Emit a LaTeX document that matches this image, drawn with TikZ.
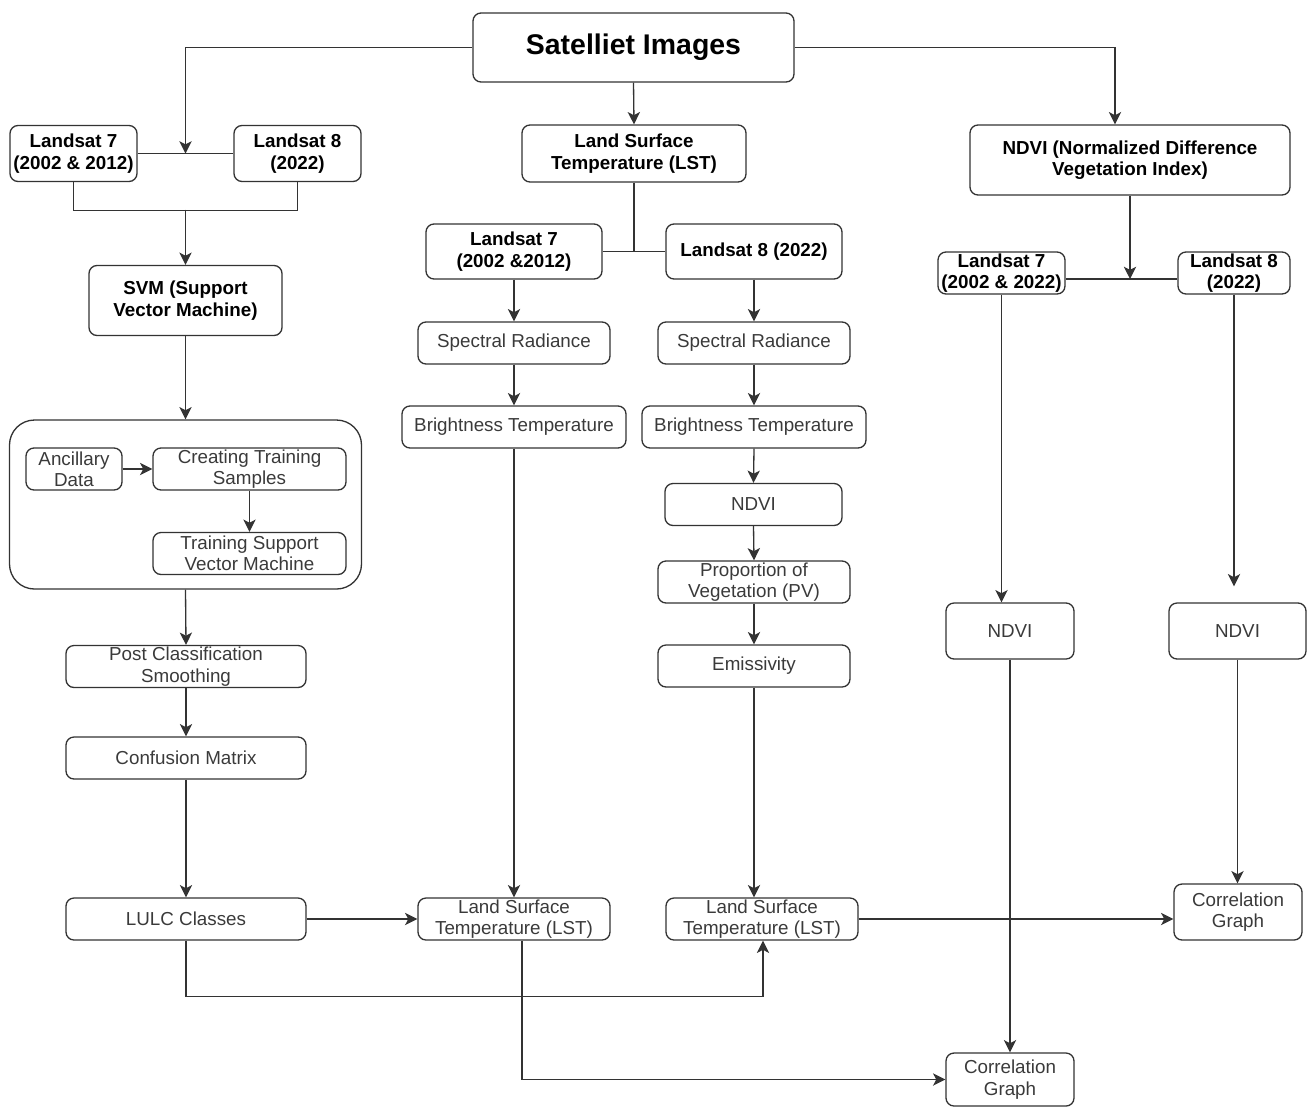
\documentclass[tikz,border=0pt]{standalone}
\usepackage{fontspec}
\setmainfont{Liberation Sans}
\usetikzlibrary{arrows.meta,calc}
\definecolor{lncol}{HTML}{333333}
\definecolor{txcol}{HTML}{3A3A3A}
\begin{document}
\begin{tikzpicture}[x=0.02cm,y=-0.02cm,
 box/.style 2 args={draw=lncol, line width=0.75pt, rounded corners=0.16cm, minimum width=#1*0.02cm, minimum height=#2*0.02cm, align=center, inner sep=0pt, font=\fontsize{10.7}{12.2}\selectfont, text=txcol},
 bbox/.style 2 args={box={#1}{#2}, font=\fontsize{10.7}{12.2}\selectfont\bfseries, text=black},
 arr/.style={draw=lncol, line width=0.75pt, -{Stealth[length=7pt,width=7pt,inset=1.8pt]}},
 conn/.style={draw=lncol, line width=0.75pt}
]
\useasboundingbox (0,0) rectangle (1307,1107);

% nodes
\node[bbox={321}{69}, font=\fontsize{16.2}{19}\selectfont\bfseries] (sat) at (633.5,47.5) {Satelliet Images};

\node[bbox={127}{56}] (l7a) at (73.5,153.5) {Landsat 7\\(2002 \& 2012)};
\node[bbox={127}{56}] (l8a) at (297.5,153.5) {Landsat 8\\(2022)};
\node[bbox={193}{70}] (svm) at (185.5,300.5) {SVM (Support\\Vector Machine)};
\node[box={352}{169}, rounded corners=0.5cm] (grp) at (185.5,504.5) {};
\node[box={96}{42}] (anc) at (74,469) {Ancillary\\Data};
\node[box={193}{42}] (cts) at (249.5,469) {Creating Training\\Samples};
\node[box={193}{42}] (tsvm) at (249.5,553.5) {Training Support\\Vector Machine};
\node[box={240}{42}] (pcs) at (186,666.5) {Post Classification\\Smoothing};
\node[box={240}{42}] (cm) at (186,758) {Confusion Matrix};
\node[box={240}{42}] (lulc) at (186,919) {LULC Classes};

\node[bbox={224}{57}] (lst) at (634,153.5) {Land Surface\\Temperature (LST)};
\node[bbox={176}{55}] (l7b) at (514,251.5) {Landsat 7\\(2002 \&2012)};
\node[bbox={176}{55}] (l8b) at (754,251.5) {Landsat 8 (2022)};
\node[box={192}{42}] (sr1) at (514,343) {Spectral Radiance};
\node[box={192}{42}] (sr2) at (754,343) {Spectral Radiance};
\node[box={224}{42}] (bt1) at (514,427) {Brightness Temperature};
\node[box={224}{42}] (bt2) at (754,427) {Brightness Temperature};
\node[box={177}{42}] (ndvim) at (753.5,504.5) {NDVI};
\node[box={192}{42}] (pv) at (754,582) {Proportion of\\Vegetation (PV)};
\node[box={192}{42}] (emi) at (754,666) {Emissivity};
\node[box={192}{42}] (lst1) at (514,919) {Land Surface\\Temperature (LST)};
\node[box={192}{42}] (lst2) at (762,919) {Land Surface\\Temperature (LST)};

\node[bbox={320}{70}] (ndvi) at (1130,160) {NDVI (Normalized Difference\\Vegetation Index)};
\node[bbox={127}{42}] (l7c) at (1001.5,273) {Landsat 7\\(2002 \& 2022)};
\node[bbox={112}{42}] (l8c) at (1234,273) {Landsat 8\\(2022)};
\node[box={128}{56}] (ndvia) at (1010,631) {NDVI};
\node[box={137}{56}] (ndvib) at (1237.5,631) {NDVI};
\node[box={128}{56}] (cg1) at (1238,912) {Correlation\\Graph};
\node[box={128}{53}] (cg2) at (1010,1079.5) {Correlation\\Graph};

% left branch
\coordinate (ja) at ($(l7a.east)!0.5!(l8a.west)$);
\draw[arr] (sat.west) -| (ja);
\draw[conn] (l7a.east) -- (l8a.west);
\draw[conn] (l7a.south) -- ++(0,28) -| (l8a.south);
\coordinate (jb) at ($(ja)+(0,56)$);
\draw[arr] (jb) -- (jb |- svm.north);
\draw[arr] (svm.south) -- (grp.north);
\draw[arr] (anc.east) -- (cts.west);
\draw[arr] (cts.south) -- (tsvm.north);
\draw[arr] (grp.south) -- (pcs.north);
\draw[arr] (pcs.south) -- (cm.north);
\draw[arr] (cm.south) -- (lulc.north);
\draw[arr] (lulc.east) -- (lst1.west);
\draw[arr] (lulc.south) -- ++(0,56) -| ($(lst2.south)+(1,0)$);

% middle branch
\draw[arr] (sat.south) -- (lst.north);
\draw[conn] (lst.south) -- (lst.south |- l7b.east);
\draw[conn] (l7b.east) -- (l8b.west);
\draw[arr] (l7b.south) -- (sr1.north);
\draw[arr] (l8b.south) -- (sr2.north);
\draw[arr] (sr1.south) -- (bt1.north);
\draw[arr] (sr2.south) -- (bt2.north);
\draw[arr] (bt1.south) -- (lst1.north);
\draw[arr] (bt2.south) -- (ndvim.north);
\draw[arr] (ndvim.south) -- (pv.north);
\draw[arr] (pv.south) -- (emi.north);
\draw[arr] (emi.south) -- (emi.south |- lst2.north);
\draw[arr] ($(lst1.south)+(8,0)$) |- (cg2.west);
\draw[arr] (lst2.east) -- (lst2.east -| cg1.west);

% right branch
\draw[arr] (sat.east) -| ($(ndvi.north)+(-15,0)$);
\draw[conn] ($(l7c.east)+(0,6)$) coordinate (jl) -- ($(l8c.west)+(0,6)$);
\draw[arr] (ndvi.south) -- (ndvi.south |- jl);
\draw[arr] (l7c.south) -- (l7c.south |- ndvia.north);
\draw[arr, shorten >=0.32cm] (l8c.south) -- (l8c.south |- ndvib.north);
\draw[arr] (ndvia.south) -- (cg2.north);
\draw[arr] (ndvib.south) -- (ndvib.south |- cg1.north);
\end{tikzpicture}
\end{document}
